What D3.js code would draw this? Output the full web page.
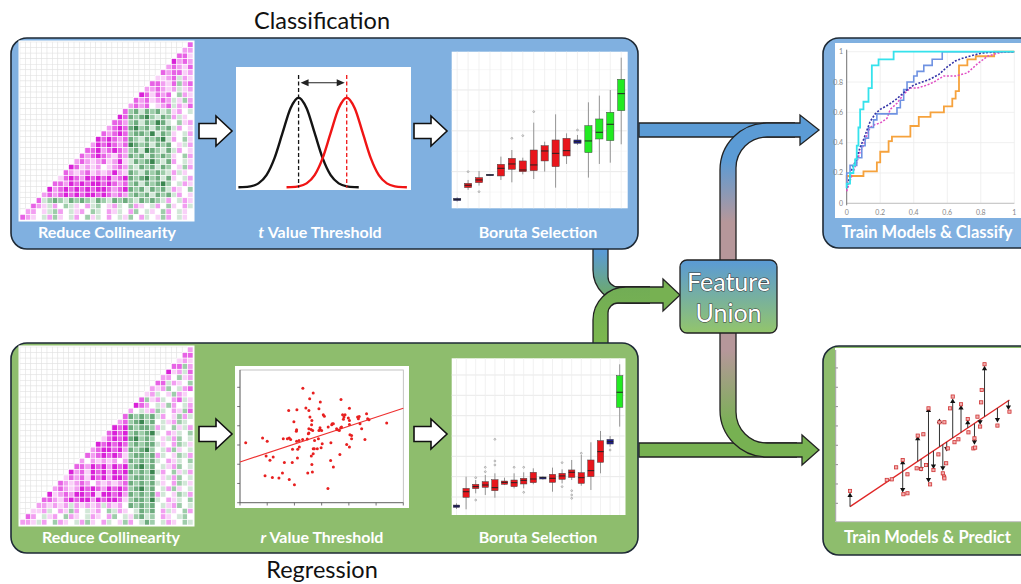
<!DOCTYPE html>
<html><head><meta charset="utf-8">
<script src="https://cdn.jsdelivr.net/npm/d3@7"></script>
<style>
body{margin:0;background:#fff;}
svg{display:block;}
</style></head><body>
<svg id="c" width="1021" height="584"></svg>
<script>
// ---------- Correlation matrices (lower-right triangle, one string per row; diagonal first) ----------
// M/m/p/q = strong..weak positive, '.' = none, g/h/G/D = weak..strong negative
const corrLevels = {M:0.95, m:0.68, p:0.42, q:0.2, '.':0, g:-0.2, h:-0.42, G:-0.66, D:-0.92};
const heatClass = [
"m","pp","mmq","Mpmp","pmpqm","mpmmqp","qqpmgpq","mmpqmhpm","ppmpqpgqp","Mmqmpm.hpq",
"mpmqpmpgqhp","pmpm.qpmgpqm","mhGgGhGghqp.g","MmGhGDhgGhpgq.","mmphGgGhDGg.hqp",
"pmMmGDhGgGhGgp.q","mpmMmhGGhDgGhq.gp","MmMmpmGhgGhGDgp.hq","pMmMmpmDGhGgGhG.qgp",
"mmMpmMmphGgDGhgGgp.q","mpmMmpqmpGhGgGhGhq.hp","pmpqpmqpMqgGhGDhgGp.gq",
"Mmqpqp.qpmphgGhGgGh.qhp","mpqpmqpqpMpqGhgGhGhgpgq.","qmMmpMmMmMpmMGhGDhGgGq.gp",
"mmpMmMmMMmMmpmhGgGhGDh.gpq","MpmMmMmMmMMmpmMGhGgGhGgpq.h","pmpmMmMmMMmMmpmphGhGgGhGgp.q",
"mghGhgGhGhgGhgGhGhgGhGhgp.gpq","mpqgp.hgq.pgh.qpg.hpq.gp.hq.pg",
"pp.qghp.gqp.hg.pqg.ph.gq.hp.gq","mpq.gphq.gp.hqg.p.gqh.pg.qhp.gq."
];
const heatRegr = [
"p","mm","qpq","mmhp","Mqpgm","pp.hqp","mmgpq.h","pqph.gpm","qpg.qhpq.","mhqpg.pmgq",
"Mmp.gqhp.gp","p.gqphg.pqhm","mGhGhGgp.qhpg","pmhGDhG.gqphg.","MmMGhGGhpg.hqgp",
"mMmMhGhGDg.pqg.h","qmMmMGDhGh.qgph.g","MmMmMmhGhGGgq.phgq","pmMMmMpGhGDh.gphq.g",
"mpmMmMmqhGGhGpg.qhgp","p.pqpqp.pGhGhGg.pqg.h","mmpMmMpMmMhGDhG.gqph.g",
"MpmqMmMpMmMGhGhDgp.hqgp","qmpmqMmMpMMmhGGhG.qgph.g","mpqpmp.pqpqpmGhGhGgq.phgq",
"pmpqpMmMmpMmMmhGDhG.gphq.g","MqpmpMMmMqMMmMpGhGhGpg.qhgp","mmpqmMmMMpMmMMmqhGGhDg.pqg.h",
"ppqpqpgpqpqpgpqp.GhGhG.gqph.g","qqpg.pqhp.gqp.hgpq.gGhG.pgq.hp",
"mp.gqp.hpq.gpq.ph.gqhGgh.pq.gh.","ppqgp.hpq.gphq.pg.qhp.gGh.gpq.hg"
];

// ---------- t value threshold: two normal densities sampled at offsets from their means ----------
const tOffsets = [-3.75,-3.5,-3,-2.5,-2,-1.5,-1,-0.5,0,0.5,1,1.5,2,2.5,3,3.5,3.75];
const tDensity = [0.0004,0.0009,0.0044,0.0175,0.054,0.130,0.242,0.352,0.399,0.352,0.242,0.130,0.054,0.0175,0.0044,0.0009,0.0004];
const tMeans = [0, 3];

// ---------- Boruta importance boxplots: [lower whisker, Q1, median, Q3, upper whisker] ----------
const borutaClsStatus = ['s','r','r','s','r','r','r','r','r','r','r','s','c','c','c','c'];
const borutaClsStats = [
 [-3.67,-3.55,-3.39,-3.27,-3.14],[-2.24,-1.96,-1.67,-1.43,-1.02],[-1.71,-1.35,-1.02,-0.73,0.08],
 [-0.53,-0.49,-0.41,-0.33,-0.29],[-1.02,-0.53,0.41,0.90,1.84],[-1.31,0.29,0.94,1.63,2.65],
 [-0.33,0,0.20,1.31,1.71],[-0.90,0.12,0.82,2.65,6.0],[0,1.31,2.53,3.18,3.67],
 [-1.96,0.61,2.24,3.88,7.02],[0.94,1.92,2.57,4.08,4.69],[3.27,3.47,3.67,3.88,4.49],
 [-0.73,2.33,3.76,5.63,8.49],[0.94,4.0,4.82,6.45,9.31],[1.10,3.80,5.80,7.27,10.0],
 [3.35,7.47,9.55,11.31,13.96]
];
const borutaClsOut = [[],[0],[-2.45],[],[],[4.08],[4.41],[7.35],[],[],[],[5.10],[],[],[],[]];

const borutaRegStatus = ['s','r','r','r','r','r','r','r','r','s','r','r','r','r','r','r','s','c'];
const borutaRegStats = [
 [-3.18,-3.02,-2.89,-2.79,-2.62],[-3.21,-2.03,-1.48,-1.15,0],[-1.64,-1.18,-0.98,-0.75,-0.33],
 [-1.80,-1.05,-0.82,-0.49,0.16],[-2.07,-1.38,-1.08,-0.30,0.33],[-0.82,-0.75,-0.56,-0.43,-0.1],
 [-1.15,-0.98,-0.59,-0.33,0.33],[-1.15,-0.72,-0.36,-0.16,0.43],[-0.75,-0.59,-0.23,0.43,0.82],
 [-0.30,-0.23,-0.10,-0.03,0.03],[-1.48,-0.56,-0.16,0.23,0.89],[-0.66,-0.26,0.07,0.33,0.72],
 [-0.33,-0.07,0.43,0.66,1.64],[-0.89,-0.66,-0.10,0.39,2.13],[-1.31,0,0.59,1.64,3.38],
 [0.33,1.41,2.46,3.54,4.49],[2.95,3.21,3.44,3.67,4.0],[4.92,6.82,8.30,9.93,11.05]
];
const borutaRegOut = [[],[],[-0.1,-2.30],[0.49,0.92],[1.15,1.54,3.67],[],[0.92],[0.92,-1.54],[],[],[],
 [1.38,-0.98],[-1.38,-1.80,-2.13],[2.30],[],[],[2.62],[]];

// ---------- ROC curves: [false positive rate, true positive rate] ----------
const rocCyan = [[0,0.1],[0,0.13],[0.02,0.13],[0.02,0.2],[0.04,0.2],[0.04,0.25],[0.05,0.25],[0.05,0.29],[0.06,0.29],[0.06,0.38],[0.07,0.38],[0.07,0.5],[0.08,0.5],[0.08,0.62],[0.1,0.62],[0.1,0.67],[0.13,0.67],[0.13,0.76],[0.15,0.76],[0.15,0.91],[0.19,0.91],[0.19,0.95],[0.28,0.95],[0.28,1],[1,1]];
const rocOrange = [[0,0.13],[0,0.18],[0.1,0.18],[0.1,0.21],[0.18,0.21],[0.18,0.27],[0.2,0.27],[0.2,0.34],[0.25,0.34],[0.25,0.41],[0.27,0.41],[0.27,0.44],[0.38,0.44],[0.38,0.51],[0.43,0.51],[0.43,0.57],[0.5,0.57],[0.5,0.6],[0.58,0.6],[0.58,0.64],[0.63,0.64],[0.63,0.69],[0.65,0.69],[0.65,0.74],[0.67,0.74],[0.67,0.91],[0.72,0.91],[0.72,0.95],[0.77,0.95],[0.77,0.97],[0.88,0.97],[0.88,1],[1,1]];
const rocBlue = [[0,0.1],[0,0.2],[0.02,0.2],[0.02,0.25],[0.06,0.25],[0.06,0.3],[0.09,0.3],[0.09,0.38],[0.11,0.38],[0.11,0.43],[0.13,0.43],[0.13,0.5],[0.16,0.5],[0.16,0.55],[0.18,0.55],[0.18,0.59],[0.3,0.59],[0.3,0.63],[0.32,0.63],[0.32,0.68],[0.34,0.68],[0.34,0.75],[0.36,0.75],[0.36,0.8],[0.4,0.8],[0.4,0.84],[0.42,0.84],[0.42,0.87],[0.46,0.87],[0.46,0.91],[0.51,0.91],[0.51,0.95],[0.57,0.95],[0.57,1],[1,1]];
const rocNavy = [[0,0.1],[0.03,0.22],[0.06,0.3],[0.08,0.37],[0.1,0.42],[0.12,0.48],[0.14,0.54],[0.17,0.59],[0.2,0.62],[0.25,0.65],[0.3,0.69],[0.35,0.74],[0.4,0.78],[0.45,0.8],[0.5,0.82],[0.55,0.85],[0.6,0.9],[0.65,0.94],[0.7,0.96],[0.8,0.99],[0.9,1],[1,1]];
const rocMagenta = [[0,0.08],[0.03,0.18],[0.06,0.27],[0.08,0.34],[0.1,0.38],[0.12,0.45],[0.14,0.5],[0.17,0.52],[0.2,0.53],[0.24,0.56],[0.26,0.62],[0.3,0.66],[0.34,0.72],[0.38,0.76],[0.42,0.76],[0.48,0.78],[0.52,0.8],[0.58,0.84],[0.65,0.84],[0.72,0.86],[0.78,0.92],[0.84,0.97],[0.9,0.99],[0.95,1]];
const rocTicks = [0,0.2,0.4,0.6,0.8,1];

// ---------- r value threshold scatter ----------
const scatterPts = [[0.21,3.12],[0.83,3.36],[1.00,3.19],[0.96,2.43],[1.22,2.38],[1.10,2.21],[0.92,1.40],[1.19,1.31],[1.43,1.28],[1.56,1.55],[1.63,2.09],[1.81,1.21],[2.00,0.93],[1.92,2.09],[2.11,2.33],[2.12,2.78],[2.18,2.90],[1.93,2.78],[1.59,3.33],[1.74,3.33],[1.81,3.36],[1.86,3.29],[2.08,3.19],[2.17,3.24],[2.30,3.28],[2.47,3.31],[2.53,3.62],[2.49,1.55],[2.66,1.60],[2.64,1.98],[2.62,2.43],[2.69,2.55],[2.69,2.81],[2.73,2.81],[2.84,2.81],[2.98,2.86],[2.88,3.33],[3.02,3.07],[2.94,3.79],[2.90,3.76],[3.00,3.76],[2.94,3.90],[3.06,4.57],[3.10,4.50],[2.90,4.88],[2.95,5.24],[2.69,5.71],[2.56,5.41],[2.31,5.95],[2.42,4.93],[2.53,4.79],[2.57,4.45],[2.64,4.28],[2.63,4.05],[2.53,3.84],[2.61,3.81],[2.67,3.76],[2.51,3.59],[2.09,4.83],[1.98,4.21],[2.08,3.79],[2.07,3.72],[1.79,4.79],[2.74,3.24],[3.23,0.74],[3.33,2.19],[3.43,1.86],[3.34,3.12],[3.24,3.93],[3.37,4.05],[3.39,4.10],[3.43,4.10],[3.55,3.84],[3.65,3.76],[3.70,3.90],[3.73,3.93],[3.67,2.50],[3.71,5.36],[3.77,4.57],[3.82,4.45],[3.86,4.57],[3.80,4.34],[4.02,4.91],[3.98,4.41],[4.02,4.28],[4.02,4.07],[4.04,3.53],[4.10,3.33],[4.10,3.50],[3.92,3.02],[4.02,2.90],[4.32,4.45],[4.35,4.36],[4.38,4.48],[4.41,4.10],[4.47,3.84],[4.59,3.29],[4.65,4.62],[4.69,4.36],[4.74,4.31],[5.39,4.14],[3.58,3.79]];
const scatterFit = {intercept: 2.12, slope: 0.465};
const scatterTicks = [0,1,2,3,4,5,6];

// ---------- regression predictions ----------
const predFit = {intercept: -0.665, slope: 0.611};
const predX = [0.81,3.79,3.79,4.64,4.83,5.25,5.25,5.53,5.87,6.06,6.28,6.62,7.09,7.47,7.85,8.17,8.42,9.15,9.77];
const predY = [0.43,2.12,0.69,3.36,1.78,4.83,1.21,1.90,4.26,1.81,2.81,5.29,4.95,4.19,3.16,4.19,6.98,4.31,4.95];
const observedPts = [[0.81,0.64],[2.89,1.21],[3.17,1.24],[3.42,1.86],[3.79,2.24],[3.83,0.47],[4.06,0.52],[4.06,1.50],[4.58,1.81],[4.64,3.50],[4.96,3.57],[4.83,1.78],[5.11,1.98],[5.25,4.91],[5.34,0.98],[5.53,1.72],[5.81,2.53],[5.87,4.19],[6.15,4.19],[6.06,1.55],[6.13,1.38],[6.15,1.29],[6.25,2.07],[6.34,2.84],[6.47,4.91],[6.62,5.52],[6.72,3.16],[6.94,3.31],[7.09,5.12],[7.47,4.36],[7.51,3.67],[7.85,3.36],[7.79,2.84],[7.89,2.88],[8.02,4.48],[8.17,3.97],[8.23,5.22],[8.26,5.86],[8.42,7.19],[9.15,4.02],[9.83,4.74]];
const predTicks = [0,1,2,3,4,5,6,7];

// ---------- captions ----------
const stageLabels = ["Reduce Collinearity", "Value Threshold", "Boruta Selection"];
const classifyLabel = "Train Models & Classify";
const predictLabel = "Train Models & Predict";

// =====================================================================
const svg = d3.select("#c");
const defs = svg.append("defs");
const ink = "#222";
const blue = "#5b9bd5", rose = "#b6979a", green = "#77b152";
const panelBlue = "#80b0e0", panelGreen = "#8ebd6d";
const font = "Lato, 'Open Sans', sans-serif";

function grad(id, y1, y2, stops, units) {
  const g = defs.append("linearGradient").attr("id", id)
    .attr("x1", 0).attr("x2", 0).attr("y1", y1).attr("y2", y2);
  if (units !== "box") g.attr("gradientUnits", "userSpaceOnUse");
  stops.forEach(([o, c]) => g.append("stop").attr("offset", o).attr("stop-color", c));
}
grad("gTopHook", 160, 222, [[0, blue], [1, rose]]);
grad("gBotHook", 350, 428, [[0, rose], [1, green]]);
grad("gMergeBlue", 252, 300, [[0, blue], [1, "#6fab5e"]]);
grad("gMergeGreen", 290, 345, [[0, "#72ad55"], [1, "#7db84e"]]);
grad("gUnion", 0, 1, [[0, "#5a9ad6"], [1, "#93c56b"]], "box");

// ---------- connectors ----------
const pipes = svg.append("g");
function arrowPath(x0, x1, xh, yc, half, headHalf) {
  return `M${x0},${yc - half} L${xh},${yc - half} L${xh},${yc - headHalf} L${x1},${yc} L${xh},${yc + headHalf} L${xh},${yc + half} L${x0},${yc + half} Z`;
}
// merge of both branches into the feature union
pipes.append("path").attr("d", arrowPath(615, 680, 663, 295, 8, 16))
  .attr("fill", green).attr("stroke", ink).attr("stroke-width", 1.3);
pipes.append("path").attr("d", "M593,246 L593,270 A33,33 0 0 0 626,303 L650,303 L650,287 L618,287 A10,10 0 0 1 608,277 L608,246 Z")
  .attr("fill", "url(#gMergeBlue)");
pipes.append("path").attr("d", "M593,246 L593,270 A33,33 0 0 0 626,303 L650,303 M650,287 L618,287 A10,10 0 0 1 608,277 L608,246")
  .attr("fill", "none").attr("stroke", ink).attr("stroke-width", 1.3);
pipes.append("path").attr("d", "M593,346 L593,320 A33,33 0 0 1 626,287 L650,287 L650,303 L618,303 A10,10 0 0 0 608,313 L608,346 Z")
  .attr("fill", "url(#gMergeGreen)");
pipes.append("path").attr("d", "M593,346 L593,320 A33,33 0 0 1 626,287 L650,287 M650,303 L618,303 A10,10 0 0 0 608,313 L608,346")
  .attr("fill", "none").attr("stroke", ink).attr("stroke-width", 1.3);

// direct arrows to the model panels
pipes.append("path").attr("d", arrowPath(639, 819, 800, 130, 7, 15))
  .attr("fill", blue).attr("stroke", ink).attr("stroke-width", 1.3);
pipes.append("path").attr("d", arrowPath(639, 819, 802, 450, 7, 15))
  .attr("fill", green).attr("stroke", ink).attr("stroke-width", 1.3);
// union feeding both model panels
pipes.append("path").attr("d", "M720,264 L720,170 A47,47 0 0 1 767,123 L795,123 L795,137 L767,137 A31,31 0 0 0 736,168 L736,264 Z")
  .attr("fill", "url(#gTopHook)");
pipes.append("path").attr("d", "M720,264 L720,170 A47,47 0 0 1 767,123 L795,123 M795,137 L767,137 A31,31 0 0 0 736,168 L736,264")
  .attr("fill", "none").attr("stroke", ink).attr("stroke-width", 1.3);
pipes.append("path").attr("d", "M720,329 L720,410 A47,47 0 0 0 767,457 L797,457 L797,443 L767,443 A31,31 0 0 1 736,412 L736,329 Z")
  .attr("fill", "url(#gBotHook)");
pipes.append("path").attr("d", "M720,329 L720,410 A47,47 0 0 0 767,457 L797,457 M797,443 L767,443 A31,31 0 0 1 736,412 L736,329")
  .attr("fill", "none").attr("stroke", ink).attr("stroke-width", 1.3);

// ---------- panels ----------
const panels = svg.append("g");
[[11, 38, 627, 211, panelBlue], [11, 343, 627, 210, panelGreen],
 [823, 38, 220, 210, panelBlue], [823, 346, 220, 209, panelGreen]].forEach(([x, y, w, h, c]) => {
  panels.append("rect").attr("x", x).attr("y", y).attr("width", w).attr("height", h)
    .attr("rx", 16).attr("fill", c).attr("stroke", "#1e2a36").attr("stroke-width", 1.6);
});

// union box
svg.append("rect").attr("x", 680).attr("y", 260).attr("width", 97).attr("height", 73).attr("rx", 7)
  .attr("fill", "url(#gUnion)").attr("stroke", ink).attr("stroke-width", 1.3);
["Feature", "Union"].forEach((t, i) => {
  svg.append("text").attr("x", 728.5).attr("y", 291 + i * 31).attr("text-anchor", "middle")
    .attr("font-family", font).attr("font-size", 25).attr("fill", "#fff")
    .attr("stroke", "#3a3a3a").attr("stroke-width", 1.1).attr("paint-order", "stroke")
    .text(t);
});

// white block arrows between stages
[[199, 131], [414, 131], [199, 434], [414, 434]].forEach(([x, y]) => {
  svg.append("path").attr("d", arrowPath(x, x + 33, x + 17, y, 7.5, 15))
    .attr("fill", "#fff").attr("stroke", "#111").attr("stroke-width", 1.6);
});

// ---------- heatmaps ----------
const corrColor = d3.scaleLinear().domain([-1, -0.5, 0, 0.5, 1])
  .range(["#2b7a42", "#8cc39a", "#ffffff", "#f08cee", "#d616d6"]);
function drawHeat(x0, y0, w, h, rows) {
  const n = rows.length;
  const g = svg.append("g");
  g.append("rect").attr("x", x0 - 1.5).attr("y", y0 - 1.5).attr("width", w + 3).attr("height", h + 3).attr("fill", "#fff");
  const xs = d3.scaleBand().domain(d3.range(n)).range([x0, x0 + w]);
  const ys = d3.scaleBand().domain(d3.range(n)).range([y0, y0 + h]);
  const cells = [];
  for (let r = 0; r < n; r++) for (let c = 0; c < n; c++) {
    const start = n - 1 - r;
    if (c < start) cells.push({r, c, v: null});
    else cells.push({r, c, v: corrLevels[rows[r][c - start]] ?? 0});
  }
  g.selectAll("rect.cell").data(cells).join("rect").attr("class", "cell")
    .attr("x", d => xs(d.c)).attr("y", d => ys(d.r))
    .attr("width", xs.bandwidth()).attr("height", ys.bandwidth())
    .attr("fill", d => d.v === null ? "#fff" : corrColor(d.v))
    .attr("stroke", d => d.v === null ? "#e2e2e2" : "#fff")
    .attr("stroke-width", d => d.v === null ? 0.5 : 0.6);
}
drawHeat(20, 42, 173, 178, heatClass);
drawHeat(20, 347, 173, 178, heatRegr);

// ---------- t value densities ----------
(function () {
  const g = svg.append("g");
  g.append("rect").attr("x", 236).attr("y", 67).attr("width", 175).attr("height", 123).attr("fill", "#fff");
  const x = d3.scaleLinear().domain([-3.9, 7.05]).range([236, 411.7]);
  const y = d3.scaleLinear().domain([0, 0.399]).range([187.3, 97.7]);
  const line = d3.line().x(d => x(d[0])).y(d => y(d[1])).curve(d3.curveMonotoneX);
  const colors = ["#141414", "#f01515"];
  tMeans.forEach((m, i) => {
    g.append("path").datum(tOffsets.map((o, k) => [m + o, tDensity[k]]))
      .attr("d", line).attr("fill", "none").attr("stroke", colors[i]).attr("stroke-width", 2.4);
  });
  tMeans.forEach((m, i) => {
    g.append("line").attr("x1", x(m)).attr("x2", x(m)).attr("y1", 75).attr("y2", 187.5)
      .attr("stroke", colors[i]).attr("stroke-width", 1.3).attr("stroke-dasharray", "4,2.5");
  });
  const ya = 82.7, xa = x(tMeans[0]) + 2, xb = x(tMeans[1]) - 2;
  g.append("line").attr("x1", xa + 4).attr("x2", xb - 4).attr("y1", ya).attr("y2", ya).attr("stroke", "#222").attr("stroke-width", 1.1);
  g.append("path").attr("d", `M${xa},${ya} L${xa + 8},${ya - 3.5} L${xa + 8},${ya + 3.5} Z M${xb},${ya} L${xb - 8},${ya - 3.5} L${xb - 8},${ya + 3.5} Z`).attr("fill", "#222");
})();

// ---------- Boruta boxplots ----------
const statusColor = {s: "#1c1c8e", r: "#e8161c", c: "#22ea22"};
function drawBoruta(x0, x1, y0, y1, yDomain, stats, status, outs, major, minor) {
  const g = svg.append("g");
  g.append("rect").attr("x", x0).attr("y", y0).attr("width", x1 - x0 + 1).attr("height", y1 - y0).attr("fill", "#fff");
  const x = d3.scaleBand().domain(d3.range(stats.length)).range([x0, x1]);
  const y = d3.scaleLinear().domain(yDomain).range([y1, y0]);
  minor.forEach(v => g.append("line").attr("x1", x0).attr("x2", x1).attr("y1", y(v)).attr("y2", y(v)).attr("stroke", "#f3f3f3").attr("stroke-width", 0.6));
  major.forEach(v => g.append("line").attr("x1", x0).attr("x2", x1).attr("y1", y(v)).attr("y2", y(v)).attr("stroke", "#e6e6e6").attr("stroke-width", 0.9));
  stats.forEach((s, i) => {
    const cx = x(i) + x.bandwidth() / 2;
    g.append("line").attr("x1", cx).attr("x2", cx).attr("y1", y0).attr("y2", y1).attr("stroke", "#eeeeee").attr("stroke-width", 0.8);
  });
  const bw = x.bandwidth() * 0.66;
  stats.forEach((s, i) => {
    const cx = x(i) + x.bandwidth() / 2;
    g.append("line").attr("x1", cx).attr("x2", cx).attr("y1", y(s[0])).attr("y2", y(s[4])).attr("stroke", "#8a8a8a").attr("stroke-width", 0.9);
    g.append("rect").attr("x", cx - bw / 2).attr("y", y(s[3])).attr("width", bw)
      .attr("height", Math.max(1.2, y(s[1]) - y(s[3])))
      .attr("fill", statusColor[status[i]]).attr("stroke", "#444").attr("stroke-width", 0.5);
    g.append("line").attr("x1", cx - bw / 2).attr("x2", cx + bw / 2).attr("y1", y(s[2])).attr("y2", y(s[2])).attr("stroke", "#222").attr("stroke-width", 1);
    outs[i].forEach(v => g.append("circle").attr("cx", cx).attr("cy", y(v)).attr("r", 0.9).attr("fill", "none").attr("stroke", "#888").attr("stroke-width", 0.6));
  });
}
drawBoruta(451.7, 626.7, 51.7, 208.3, [-4.49, 14.69], borutaClsStats, borutaClsStatus, borutaClsOut, [0, 5, 10], [-2.5, 2.5, 7.5, 12.5]);
drawBoruta(451.7, 624.5, 358.3, 515, [-3.77, 11.64], borutaRegStats, borutaRegStatus, borutaRegOut, [-2, 0, 2, 4, 6, 8, 10], []);

// ---------- ROC ----------
(function () {
  const g = svg.append("g");
  g.append("rect").attr("x", 835).attr("y", 43).attr("width", 186).attr("height", 175).attr("fill", "#fff");
  const x = d3.scaleLinear().domain([0, 1]).range([846.7, 1014.3]);
  const y = d3.scaleLinear().domain([0, 1]).range([203.3, 51.7]);
  rocTicks.forEach(t => {
    g.append("line").attr("x1", x(t)).attr("x2", x(t)).attr("y1", y(0)).attr("y2", y(1)).attr("stroke", "#ececec").attr("stroke-width", 0.8);
    g.append("line").attr("x1", x(0)).attr("x2", x(1)).attr("y1", y(t)).attr("y2", y(t)).attr("stroke", "#ececec").attr("stroke-width", 0.8);
  });
  g.append("line").attr("x1", x(0)).attr("x2", x(1)).attr("y1", y(0)).attr("y2", y(0)).attr("stroke", "#bbb").attr("stroke-width", 0.9);
  g.append("line").attr("x1", x(0)).attr("x2", x(0)).attr("y1", y(0) + 2).attr("y2", y(1) - 2).attr("stroke", "#666").attr("stroke-width", 0.9);
  rocTicks.forEach(t => {
    g.append("text").attr("x", x(t)).attr("y", 215).attr("text-anchor", "middle").attr("font-family", font).attr("font-size", 7).attr("fill", "#888").text(t);
    g.append("text").attr("x", 843).attr("y", y(t) + 2.5).attr("text-anchor", "end").attr("font-family", font).attr("font-size", 7).attr("fill", "#888").text(t);
  });
  const line = d3.line().x(d => x(d[0])).y(d => y(d[1]));
  const curves = [
    [rocOrange, "#f6a23c", 1.8, null], [rocMagenta, "#e14fc4", 1.5, "2,1.6"],
    [rocBlue, "#6f92e2", 1.6, null], [rocNavy, "#3434a8", 1.6, "2,1.6"], [rocCyan, "#35e2ec", 1.8, null]
  ];
  curves.forEach(([pts, c, w, dash]) => {
    g.append("path").datum(pts).attr("d", line).attr("fill", "none").attr("stroke", c)
      .attr("stroke-width", w).attr("stroke-dasharray", dash);
  });
})();

// ---------- scatter with fitted line ----------
(function () {
  const g = svg.append("g");
  g.append("rect").attr("x", 235).attr("y", 366).attr("width", 174).attr("height", 142).attr("fill", "#fff");
  const x = d3.scaleLinear().domain([0, 6]).range([240, 403.3]);
  const y = d3.scaleLinear().domain([0, 6.9]).range([502.7, 370]);
  g.append("rect").attr("x", 240).attr("y", 370).attr("width", 163.3).attr("height", 132.7).attr("fill", "none").attr("stroke", "#b5b5b5").attr("stroke-width", 0.8);
  g.append("line").attr("x1", 240).attr("x2", 240).attr("y1", 370).attr("y2", 502.7).attr("stroke", "#555").attr("stroke-width", 0.8);
  g.append("line").attr("x1", 240).attr("x2", 403.3).attr("y1", 502.7).attr("y2", 502.7).attr("stroke", "#555").attr("stroke-width", 0.8);
  scatterTicks.forEach(t => {
    g.append("line").attr("x1", x(t)).attr("x2", x(t)).attr("y1", 502.7).attr("y2", 505.5).attr("stroke", "#555").attr("stroke-width", 0.8);
    g.append("line").attr("x1", 237.2).attr("x2", 240).attr("y1", y(t)).attr("y2", y(t)).attr("stroke", "#555").attr("stroke-width", 0.8);
  });
  g.append("line").attr("x1", x(0)).attr("x2", x(6))
    .attr("y1", y(scatterFit.intercept)).attr("y2", y(scatterFit.intercept + 6 * scatterFit.slope))
    .attr("stroke", "#ee3030").attr("stroke-width", 1.1);
  g.selectAll("circle").data(scatterPts).join("circle")
    .attr("cx", d => x(d[0])).attr("cy", d => y(d[1])).attr("r", 1.5).attr("fill", "#e82020");
})();

// ---------- predictions vs observed ----------
(function () {
  const g = svg.append("g");
  g.append("rect").attr("x", 835).attr("y", 348).attr("width", 186).attr("height", 174).attr("fill", "#fff");
  const x = d3.scaleLinear().domain([0, 10.37]).range([835.7, 1019]);
  const y = d3.scaleLinear().domain([-0.95, 8.03]).range([521.7, 348]);
  g.append("line").attr("x1", 835.7).attr("x2", 1021).attr("y1", 521.7).attr("y2", 521.7).attr("stroke", "#bbb").attr("stroke-width", 1);
  g.append("line").attr("x1", 835.7).attr("x2", 835.7).attr("y1", 350).attr("y2", 521.7).attr("stroke", "#999").attr("stroke-width", 1);
  predTicks.forEach(t => g.append("line").attr("x1", 835.7).attr("x2", 838).attr("y1", y(t)).attr("y2", y(t)).attr("stroke", "#777").attr("stroke-width", 0.8));
  const fit = v => predFit.intercept + predFit.slope * v;
  g.append("line").attr("x1", x(0.81)).attr("x2", x(9.83)).attr("y1", y(fit(0.81))).attr("y2", y(fit(9.83)))
    .attr("stroke", "#e02626").attr("stroke-width", 1.3);
  predX.forEach((px, i) => {
    const y0 = fit(px), y1 = predY[i];
    g.append("line").attr("x1", x(px)).attr("x2", x(px)).attr("y1", y(y0)).attr("y2", y(y1)).attr("stroke", "#333").attr("stroke-width", 1);
    const up = y1 > y0, cx = x(px), cy = y(y1);
    const d = up ? `M${cx},${cy - 2.5} L${cx + 2.6},${cy + 2} L${cx - 2.6},${cy + 2} Z` : `M${cx},${cy + 2.5} L${cx + 2.6},${cy - 2} L${cx - 2.6},${cy - 2} Z`;
    g.append("path").attr("d", d).attr("fill", "#111");
  });
  g.selectAll("rect.obs").data(observedPts).join("rect").attr("class", "obs")
    .attr("x", d => x(d[0]) - 1.6).attr("y", d => y(d[1]) - 1.6).attr("width", 3.2).attr("height", 3.2)
    .attr("fill", "#f2b0b0").attr("stroke", "#d03434").attr("stroke-width", 0.8);
})();

// ---------- text ----------
function label(x, y, size, txt, opts = {}) {
  const t = svg.append("text").attr("x", x).attr("y", y).attr("text-anchor", "middle")
    .attr("font-family", font).attr("font-size", size)
    .attr("font-weight", opts.weight || 700).attr("fill", opts.fill || "#fff");
  if (opts.italic) {
    t.append("tspan").attr("font-style", "italic").text(opts.italic + " ");
  }
  t.append("tspan").text(txt);
  return t;
}
label(322, 28.5, 23.5, "Classification", {fill: "#111", weight: 400});
label(322, 578, 23.5, "Regression", {fill: "#111", weight: 400});
label(107, 237.5, 16, stageLabels[0]);
label(320, 237.5, 16, stageLabels[1], {italic: "t"});
label(538, 237.5, 16, stageLabels[2]);
label(111, 542.5, 16, stageLabels[0]);
label(322, 542.5, 16, stageLabels[1], {italic: "r"});
label(538, 542.5, 16, stageLabels[2]);
label(927, 238, 16.5, classifyLabel);
label(927.5, 542.5, 16.5, predictLabel);
</script></body></html>
